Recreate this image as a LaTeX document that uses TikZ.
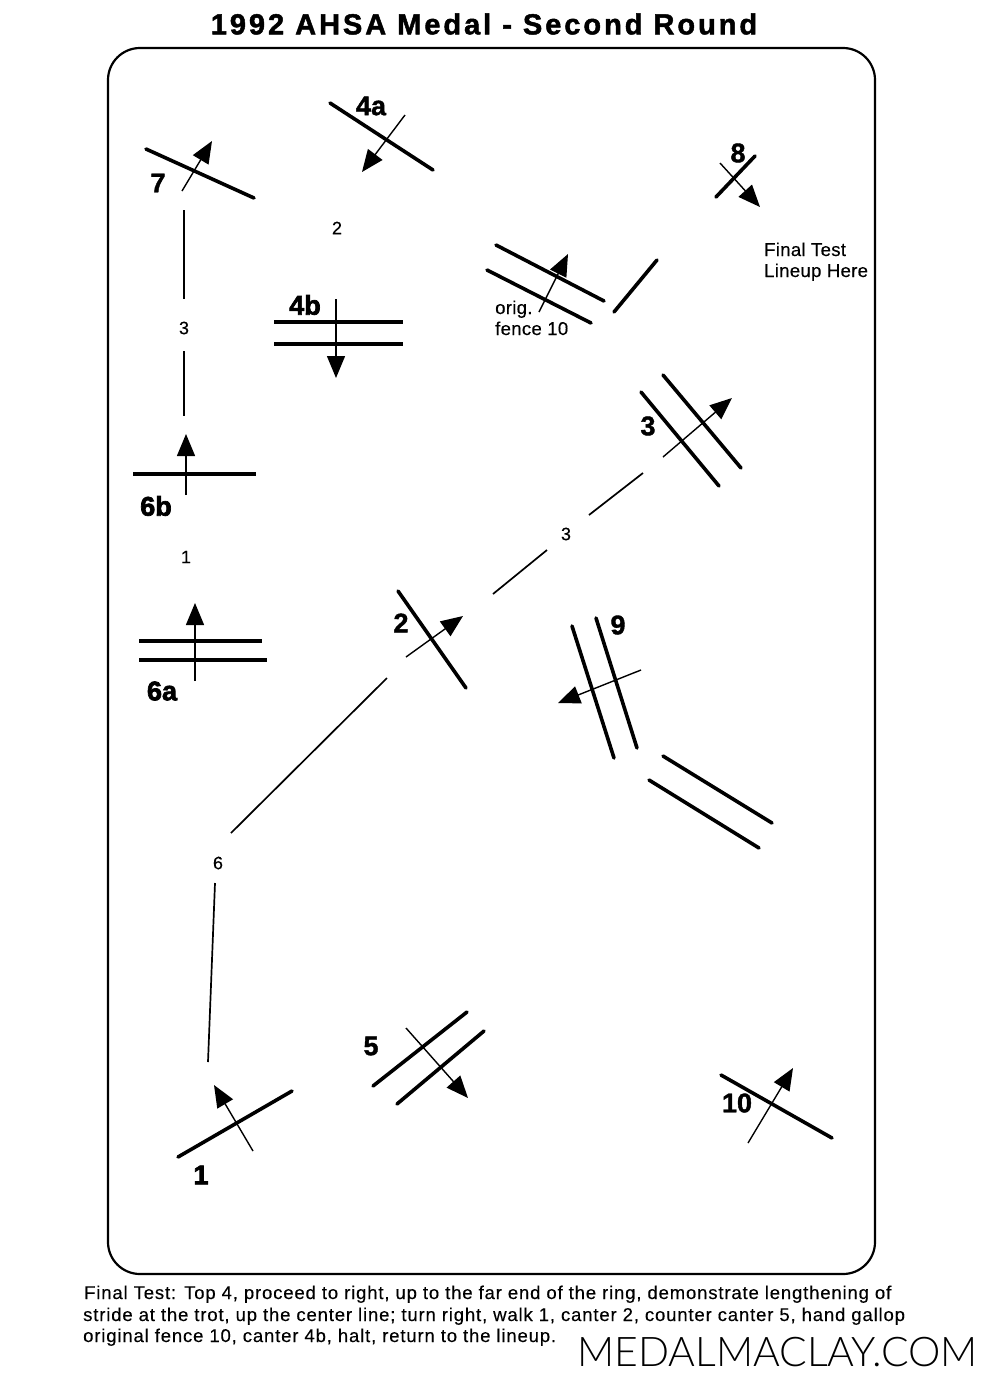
\documentclass[tikz,border=0pt]{standalone}
\usepackage{fontspec}
\usetikzlibrary{arrows.meta}
\setmainfont{Liberation Sans}
\newfontface\ttlfont{Liberation Sans Bold}[LetterSpace=10.2,FakeBold=1.6]
\newfontface\bigfont{Liberation Sans Bold}[FakeBold=1.4]
\newfontface\heavyfont{Liberation Sans Bold}[FakeBold=2.6]
\newfontface\footfont{Liberation Sans}[LetterSpace=4.6,FakeBold=0.3]
\newfontface\notefont{Liberation Sans}[LetterSpace=1.5,FakeBold=0.3]
\newfontface\wmfont{Lato Light}
\tikzset{
  fence/.style={line width=3.6pt,line cap=round},
  flat/.style={line width=3.6pt},
  lane/.style={line width=1.7pt},
  jump/.style={line width=1.4pt,-{Triangle[length=22pt,width=18pt]}},
  frame/.style={line width=2.2pt,rounded corners=32pt},
  big/.style={inner sep=0pt,font=\bigfont\fontsize{27}{27}\selectfont},
  heavy/.style={inner sep=0pt,font=\heavyfont\fontsize{27}{27}\selectfont},
  small/.style={inner sep=0pt,font=\notefont\fontsize{18}{18}\selectfont},
  note/.style={inner sep=0pt,anchor=base west,font=\notefont\fontsize{18.6}{18.6}\selectfont},
  foot/.style={inner sep=0pt,anchor=base west,font=\footfont\fontsize{18.5}{18.5}\selectfont},
}
\begin{document}
\begin{tikzpicture}[x=1pt,y=-1pt]
\useasboundingbox (0,0) rectangle (1000,1385);
\fill[white] (0,0) rectangle (1000,1385);
\node[inner sep=0pt,font=\ttlfont\fontsize{29}{29}\selectfont] (title) at (484,24) {1992 AHSA Medal - Second Round};
\draw[frame] (108,48) rectangle (875,1274);
% 7
\draw[fence] (146,149) -- (254,198);
\draw[jump] (182,191) -- (212,141);
\node[big] (l7) at (158,183) {7};
% 4a
\draw[fence] (330,103) -- (433,170);
\draw[jump] (405,115) -- (362,172);
\node[big] (l4a) at (371,106) {4a};
% 8
\draw[fence] (716,197) -- (755,156);
\draw[jump] (720,163) -- (760,207);
\node[big] (l8) at (738,153) {8};
% orig 10
\draw[fence] (496,245) -- (604,301);
\draw[fence] (487,270) -- (591,323);
\draw[fence] (614,312) -- (657,260);
\draw[jump] (539,312) -- (568,254);
\node[note] (o1) at (495,314) {orig.};
\node[note] (o2) at (495,335) {fence 10};
\node[note] (f1) at (764,256) {Final Test};
\node[note] (f2) at (764,277) {Lineup Here};
% 4b
\draw[flat] (274,322) -- (403,322);
\draw[flat] (274,344) -- (403,344);
\draw[jump] (336,299) -- (336,378);
\node[heavy] (l4b) at (305,305) {4b};
% 3
\draw[fence] (663,375) -- (741,468);
\draw[fence] (641,392) -- (719,486);
\draw[jump] (663,457) -- (732,398);
\node[big] (l3) at (648,426) {3};
% 6b
\draw[flat] (133,474) -- (256,474);
\draw[jump] (186,495) -- (186,434);
\node[heavy] (l6b) at (156,506) {6b};
% 6a
\draw[flat] (139,641) -- (262,641);
\draw[flat] (139,660) -- (267,660);
\draw[jump] (195,681) -- (195,603);
\node[heavy] (l6a) at (162,691) {6a};
% 2
\draw[fence] (398,591) -- (466,688);
\draw[jump] (406,657) -- (463,616);
\node[big] (l2) at (401,623) {2};
% 9
\draw[fence] (572,626) -- (614,758);
\draw[fence] (596,618) -- (637,748);
\draw[jump] (641,670) -- (558,703);
\node[big] (l9) at (618,625) {9};
\draw[fence] (663,756) -- (772,823);
\draw[fence] (649,780) -- (759,848);
% 5
\draw[fence] (373,1086) -- (467,1012);
\draw[fence] (397,1104) -- (484,1031);
\draw[jump] (406,1028) -- (468,1098);
\node[big] (l5) at (371,1046) {5};
% 1
\draw[fence] (178,1157) -- (292,1091);
\draw[jump] (253,1151) -- (214,1085);
\node[heavy] (l1) at (201,1175) {1};
% 10
\draw[fence] (721,1075) -- (832,1138);
\draw[jump] (748,1143) -- (793,1068);
\node[big] (l10) at (737,1103) {10};
% stride counts and lanes
\node[small] (s2) at (337,228) {2};
\node[small] (s3a) at (184,328) {3};
\node[small] (s1) at (186,557) {1};
\node[small] (s3b) at (566,534) {3};
\node[small] (s6) at (218,863) {6};
\coordinate (a1) at (184,210); \coordinate (a2) at (184,299);
\coordinate (a3) at (184,351); \coordinate (a4) at (184,416);
\draw[lane] (a1) -- (a2);
\draw[lane] (a3) -- (a4);
\coordinate (b1) at (493,594); \coordinate (b2) at (547,550);
\coordinate (b3) at (589,515); \coordinate (b4) at (643,473);
\draw[lane] (b1) -- (b2);
\draw[lane] (b3) -- (b4);
\coordinate (c1) at (231,833); \coordinate (c2) at (387,678);
\draw[lane] (c1) -- (c2);
\coordinate (d1) at (215,883); \coordinate (d2) at (208,1062);
\draw[lane] (d1) -- (d2);
% footer
\node[foot] (t1) at (84,1299) {Final Test: Top 4, proceed to right, up to the far end of the ring, demonstrate lengthening of};
\node[foot] (t2) at (83,1321) {stride at the trot, up the center line; turn right, walk 1, canter 2, counter canter 5, hand gallop};
\node[foot] (t3) at (83,1342) {original fence 10, canter 4b, halt, return to the lineup.};
\node[inner sep=0pt,anchor=base west,font=\wmfont\fontsize{40.9}{40.9}\selectfont] (wm) at (577,1366) {MEDALMACLAY.COM};
\end{tikzpicture}
\end{document}
